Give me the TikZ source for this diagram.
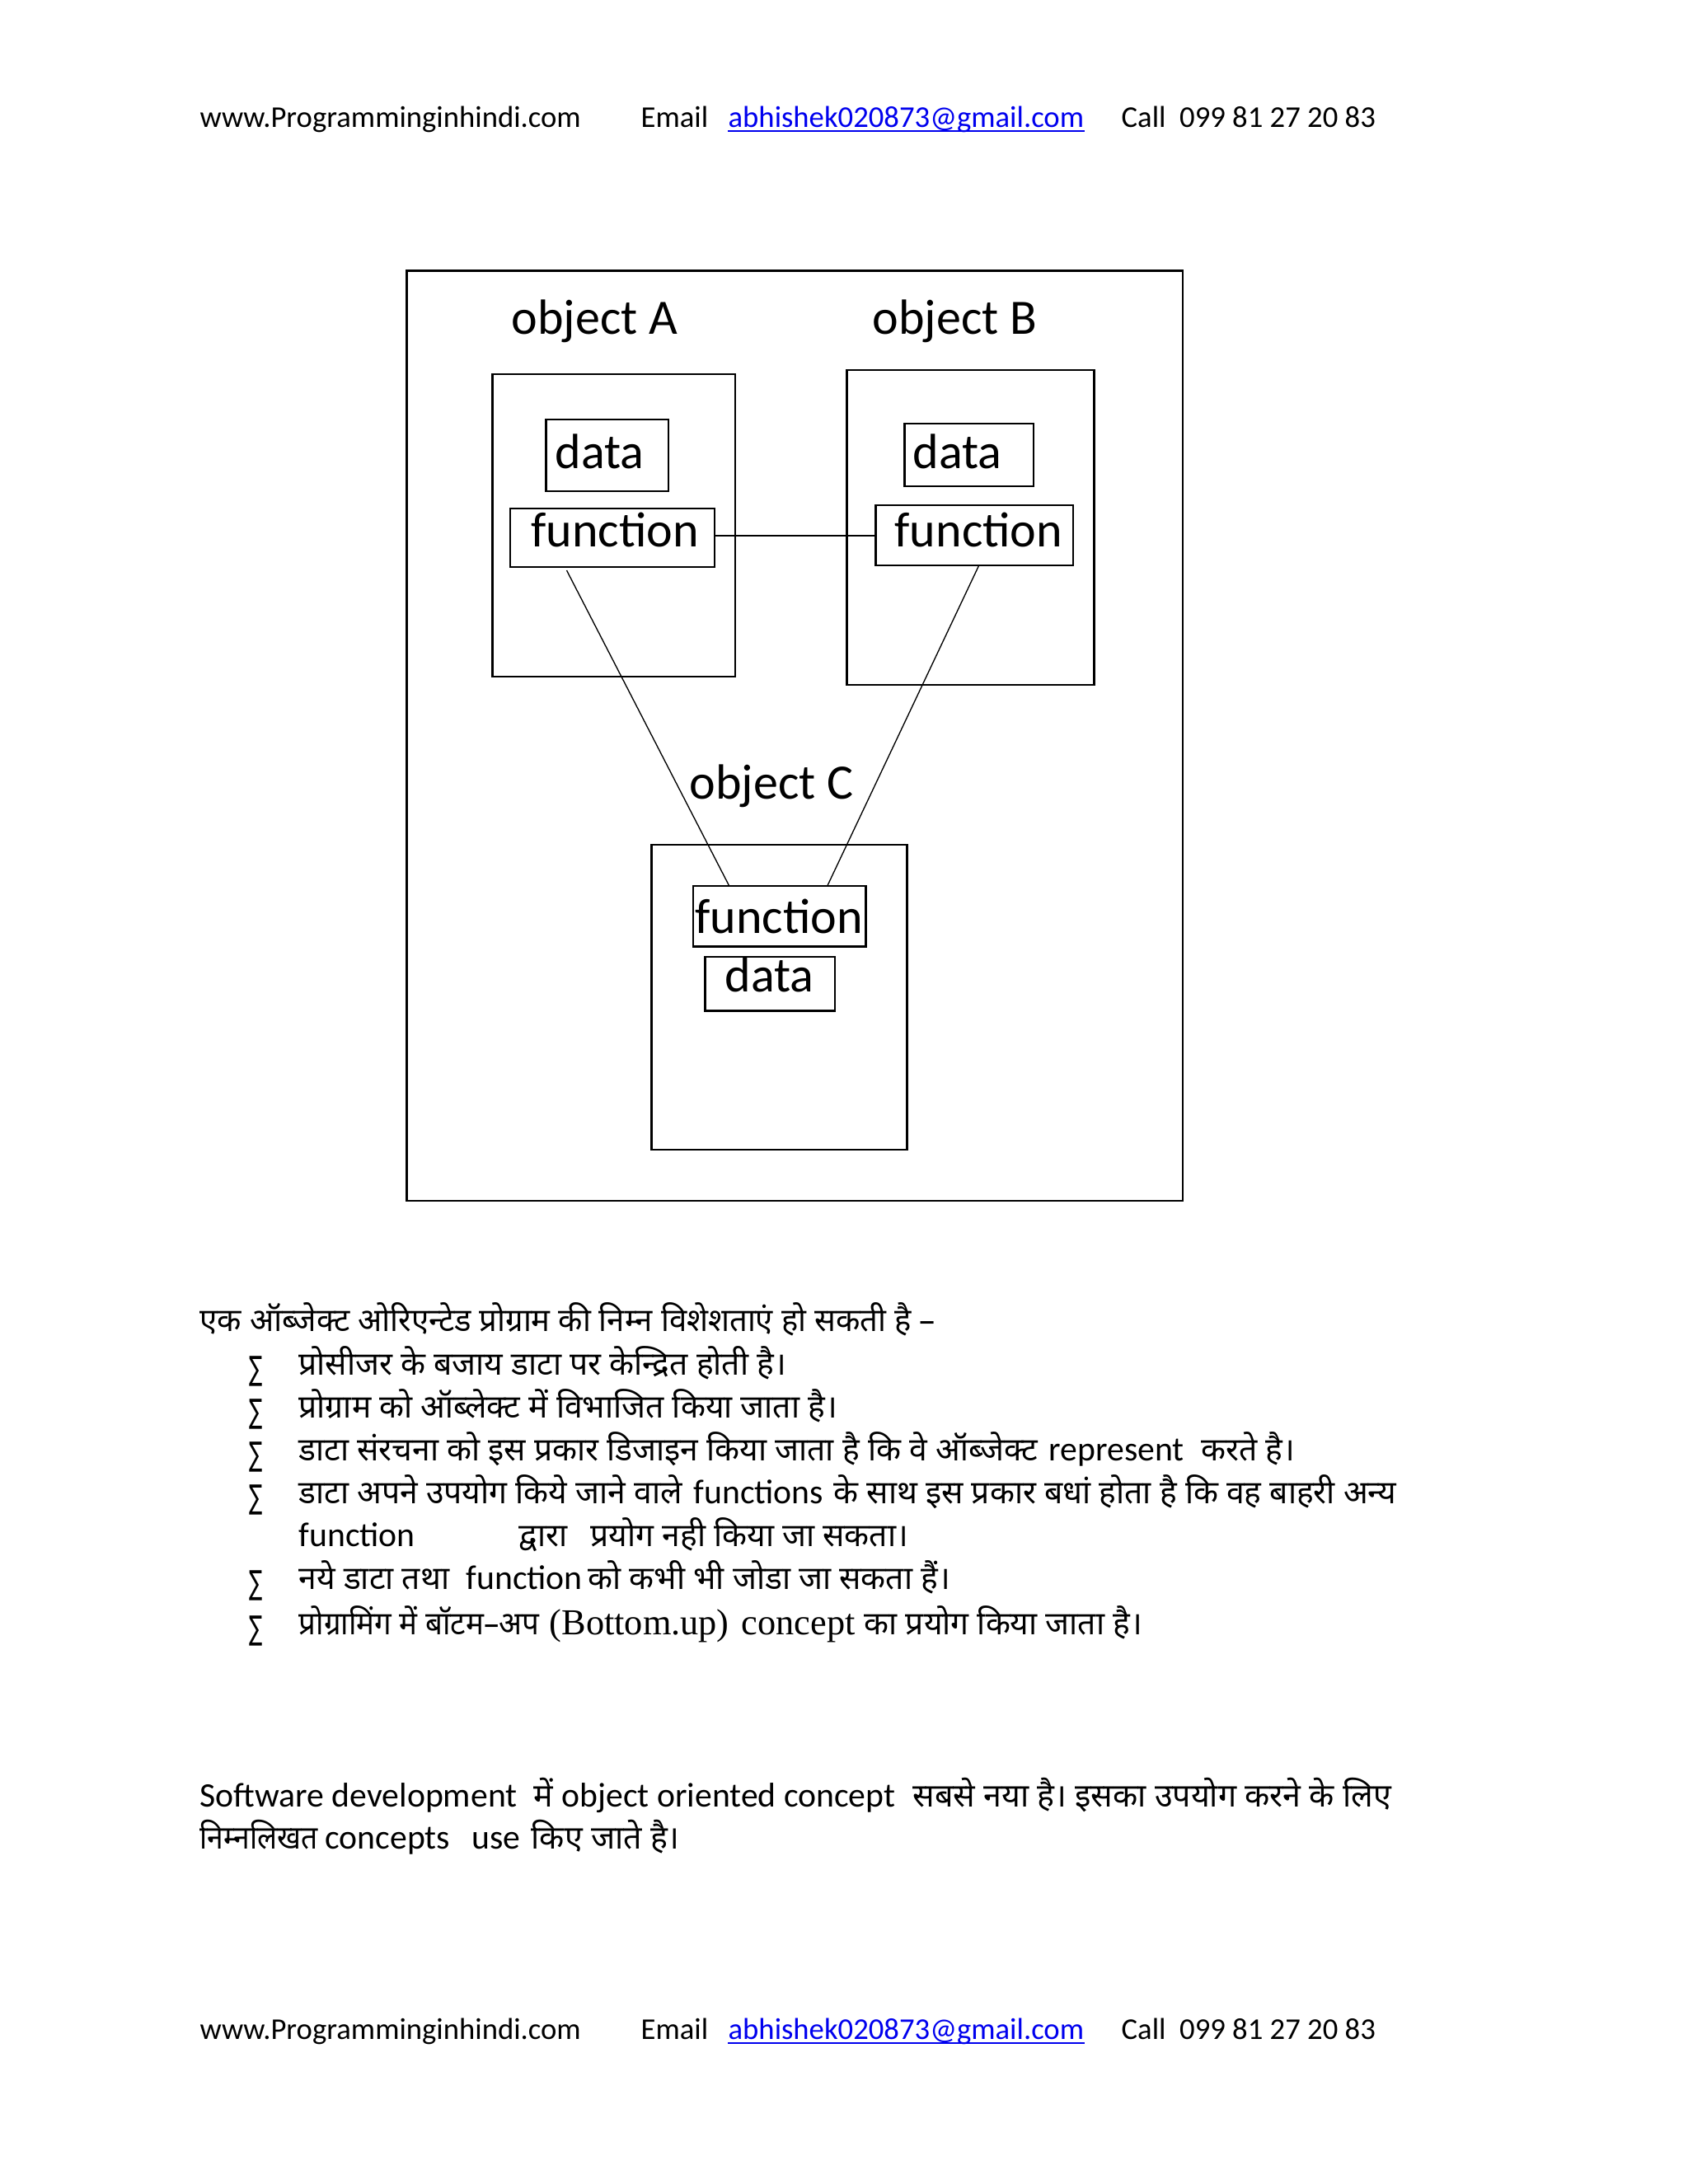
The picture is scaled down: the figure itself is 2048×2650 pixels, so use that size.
\documentclass[tikz,border=0pt]{standalone}
\usepackage{fontspec}
\setmainfont{Carlito}
\newfontfamily\hin[Script=Devanagari]{Noto Sans}
\newfontfamily\serf{Liberation Serif}
\newfontfamily\symf{DejaVu Sans}
\usetikzlibrary{fit,calc}
\definecolor{linkblue}{RGB}{0,0,238}
\begin{document}
\begin{tikzpicture}[x=0.2988bp,y=-0.2988bp,
  box/.style={draw, line width=0.65bp, inner sep=0pt, outer sep=0pt},
  lbl/.style={anchor=base west, inner sep=0pt, font=\fontsize{18}{20}\selectfont},
  link/.style={line width=0.4bp},
  conn/.style={line width=0.6bp},
  hd/.style={anchor=base west, inner sep=0pt, font=\fontsize{11}{13}\selectfont},
  hi/.style={anchor=base west, inner sep=0pt, font=\hin\fontsize{11.7}{13}\selectfont},
  hp/.style={anchor=base west, inner sep=0pt, font=\hin\fontsize{11.8}{13}\selectfont},
  en/.style={anchor=base west, inner sep=0pt, font=\fontsize{12.5}{14}\selectfont},
  se/.style={anchor=base west, inner sep=0pt, font=\serf\fontsize{13.3}{15}\selectfont},
  bul/.style={anchor=base west, inner sep=0pt, font=\symf\fontsize{12}{14}\selectfont}]
\fill[white] (0,0) rectangle (2048,2650);
\useasboundingbox (0,0) rectangle (2048,2650);

% header
\node[hd] (hw) at (242,154) {www.Programminginhindi.com};
\node[hd] (he) at (777,154) {Email};
\node[hd,text=linkblue] (hm) at (883,154) {abhishek020873@gmail.com};
\node[hd] (hc) at (1360,154) {Call\ \ 099 81 27 20 83};
\draw[linkblue,line width=0.6bp] ($(hm.base west)+(0,5)$) -- ($(hm.base east)+(0,5)$);

% diagram
\node[box, fit={(493.5,328.5) (1435,1457)}] (outer) {};
\node[lbl] (tA) at (620,405.5) {object A};
\node[lbl] (tB) at (1058,405.5) {object B};
\node[box, fit={(597.5,454) (892,821)}] (objA) {};
\node[box, fit={(662.5,509) (811,596)}] (dataA) {};
\node[box, fit={(619,617) (867,688)}] (funcA) {};
\node[lbl] (ldA) at (673,568) {data};
\node[lbl] (lfA) at (644,663.5) {function};
\node[box, fit={(1027.5,449) (1327.5,831)}] (objB) {};
\node[box, fit={(1097.5,514) (1254,590)}] (dataB) {};
\node[box, fit={(1062.5,613) (1302,686)}] (funcB) {};
\node[lbl] (ldB) at (1107,568) {data};
\node[lbl] (lfB) at (1085,663.5) {function};
\node[lbl] (tC) at (836,969) {object C};
\node[box, fit={(790.5,1025) (1100.5,1395)}] (objC) {};
\node[box, fit={(841,1075) (1050.5,1148.5)}] (funcC) {};
\node[box, fit={(855.5,1161) (1013,1226.5)}] (dataC) {};
\node[lbl] (lfC) at (843,1132) {function};
\node[lbl] (ldC) at (879,1203.5) {data};

\draw[conn] (funcA.east |- funcB.west) -- (funcB.west);
\draw[link] ($(funcA.south)+(-55.5,4)$) -- ($(funcC.north)+(-61,0)$);
\draw[link] ($(funcB.south)+(5,1)$) -- ($(funcC.north)+(58,0)$);

% Hindi list
\node[hi] (l1) at (242,1615) {\scalebox{0.98}[1]{एक ऑब्जेक्ट ओरिएन्टेड प्रोग्राम की निम्न विशेशताएं हो सकती है –}};
\foreach \yy/\nm in {1668/b1,1720/b2,1772/b3,1824/b4,1928/b5,1983/b6}
  \node[bul] (\nm) at (302,\yy+6) {\scalebox{0.6}[1]{∑}};
\node[hi] (l2) at (362,1668) {प्रोसीजर के बजाय डाटा पर केन्द्रित होती है।};
\node[hi] (l3) at (362,1720) {प्रोग्राम को ऑब्लेक्ट में विभाजित किया जाता है।};
\node[hi] (l4a) at (362,1772) {डाटा संरचना को इस प्रकार डिजाइन किया जाता है कि वे ऑब्जेक्ट};
\node[en] (l4b) at (1272,1772) {represent};
\node[hi] (l4c) at (1457,1772) {करते है।};
\node[hi] (l5a) at (362,1824) {डाटा अपने उपयोग किये जाने वाले};
\node[en] (l5b) at (841,1824) {functions};
\node[hi] (l5c) at (1011,1824) {के साथ इस प्रकार बधां होता है कि वह बाहरी अन्य};
\node[en] (l6a) at (362,1876) {function};
\node[hi] (l6b) at (629,1876) {द्वारा};
\node[hi] (l6c) at (716,1876) {प्रयोग नही किया जा सकता।};
\node[hi] (l7a) at (362,1928) {नये डाटा तथा};
\node[en] (l7b) at (565,1928) {function};
\node[hi] (l7c) at (713,1928) {को कभी भी जोडा जा सकता हैं।};
\node[hi] (l8a) at (362,1983) {\scalebox{0.94}[1]{प्रोग्रामिंग में बॉटम–अप}};
\node[se] (l8b) at (666,1983) {(Bottom.up)};
\node[se] (l8c) at (899,1983) {concept};
\node[hi] (l8d) at (1048,1983) {का प्रयोग किया जाता है।};

% paragraph
\node[en] (p1a) at (242,2192) {Software development};
\node[hp] (p1b) at (647,2192) {में};
\node[en] (p1c) at (681,2192) {object oriented concept};
\node[hp] (p1d) at (1107,2192) {सबसे नया है। इसका उपयोग करने के लिए};
\node[hp] (p2a) at (242,2243) {\scalebox{0.9}[1]{निम्नलिखत}};
\node[en] (p2b) at (394,2243) {concepts};
\node[en] (p2c) at (572,2243) {use};
\node[hp] (p2d) at (644,2243) {किए जाते है।};

% footer
\node[hd] (fw) at (242,2474) {www.Programminginhindi.com};
\node[hd] (fe) at (777,2474) {Email};
\node[hd,text=linkblue] (fm) at (883,2474) {abhishek020873@gmail.com};
\node[hd] (fc) at (1360,2474) {Call\ \ 099 81 27 20 83};
\draw[linkblue,line width=0.6bp] ($(fm.base west)+(0,5)$) -- ($(fm.base east)+(0,5)$);
\end{tikzpicture}
\end{document}
